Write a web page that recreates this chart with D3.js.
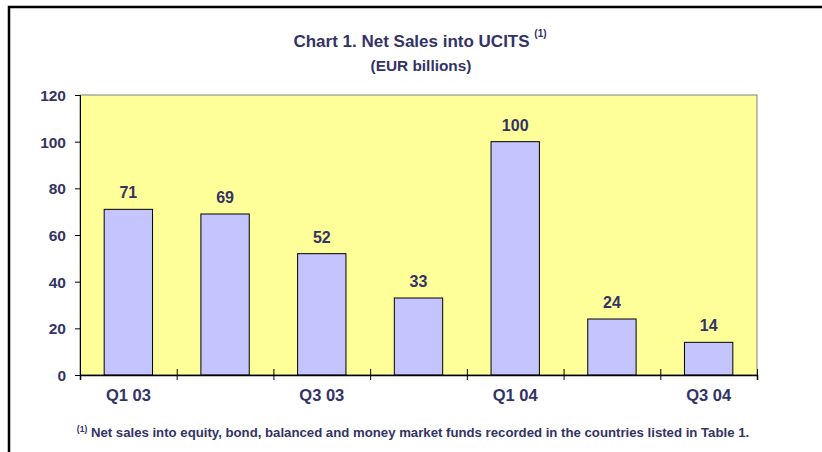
<!DOCTYPE html>
<html>
<head>
<meta charset="utf-8">
<script src="https://cdn.jsdelivr.net/npm/d3@7"></script>
<style>
  html, body { margin: 0; padding: 0; background: #fff; }
  svg { display: block; font-family: "Liberation Sans", Arial, sans-serif; font-weight: bold; }
</style>
</head>
<body>
<div id="chart"></div>
<script>
const categories = ["Q1 03", "Q2 03", "Q3 03", "Q4 03", "Q1 04", "Q2 04", "Q3 04"];
const netSales = [71, 69, 52, 33, 100, 24, 14];
const yTicks = [0, 20, 40, 60, 80, 100, 120];

const width = 822, height = 452;
const margin = { top: 95, right: 65, bottom: 77, left: 80 };
const textColor = "#333366";

const svg = d3.select("#chart").append("svg")
    .attr("width", width)
    .attr("height", height);

// outer frame, runs off the right and bottom edges like the source
svg.append("rect")
    .attr("x", 9).attr("y", 7)
    .attr("width", 840).attr("height", 470)
    .attr("fill", "none")
    .attr("stroke", "#000")
    .attr("stroke-width", 2.5);

const x = d3.scaleBand()
    .domain(categories)
    .range([margin.left, width - margin.right])
    .paddingInner(0.5)
    .paddingOuter(0.25);

const y = d3.scaleLinear()
    .domain([0, 120])
    .range([height - margin.bottom, margin.top]);

const x0 = margin.left, x1 = width - margin.right;
const y0 = y(0), yTop = y(120);

// plot area
svg.append("rect")
    .attr("x", x0).attr("y", yTop)
    .attr("width", x1 - x0).attr("height", y0 - yTop)
    .attr("fill", "#FFFF99")
    .attr("stroke", "#808080")
    .attr("stroke-width", 1);

// bars
svg.append("g")
    .selectAll("rect")
    .data(netSales)
    .join("rect")
    .attr("x", (d, i) => x(categories[i]))
    .attr("y", d => y(d))
    .attr("width", x.bandwidth())
    .attr("height", d => y0 - y(d))
    .attr("fill", "#C4C4FF")
    .attr("stroke", "#000")
    .attr("stroke-width", 1);

// value labels
svg.append("g")
    .selectAll("text")
    .data(netSales)
    .join("text")
    .attr("x", (d, i) => x(categories[i]) + x.bandwidth() / 2)
    .attr("y", d => y(d) - 11)
    .attr("text-anchor", "middle")
    .attr("font-size", 16)
    .attr("fill", textColor)
    .text(d => d);

// y axis
svg.append("g")
    .attr("transform", `translate(${x0},0)`)
    .call(d3.axisLeft(y).tickValues(yTicks).tickSize(5).tickPadding(9))
    .call(g => g.select(".domain").attr("stroke", "#000"))
    .call(g => g.selectAll("line").attr("stroke", "#000"))
    .call(g => g.selectAll("text")
        .attr("font-size", 15.5)
        .attr("font-family", "Liberation Sans, Arial, sans-serif")
        .attr("font-weight", "bold")
        .attr("fill", textColor)
        .attr("dy", "0.36em"));

// x axis: tick marks at category boundaries, crossing the axis
const xb = d3.scaleLinear().domain([0, categories.length]).range([x0, x1]);
svg.append("g")
    .attr("transform", `translate(0,${y0})`)
    .call(d3.axisBottom(xb).ticks(categories.length).tickSize(5).tickFormat(""))
    .call(g => g.select(".domain").attr("stroke", "#000").attr("stroke-width", 1.5))
    .call(g => g.selectAll(".tick line").attr("stroke", "#000").attr("y1", -6));

// x labels, every second quarter
svg.append("g")
    .selectAll("text")
    .data(categories.filter((c, i) => i % 2 === 0))
    .join("text")
    .attr("x", c => x(c) + x.bandwidth() / 2)
    .attr("y", 401)
    .attr("text-anchor", "middle")
    .attr("font-size", 16.5)
    .attr("fill", textColor)
    .text(c => c);

// title
const title = svg.append("text")
    .attr("x", 420)
    .attr("y", 47)
    .attr("text-anchor", "middle")
    .attr("font-size", 17)
    .attr("fill", textColor);
title.append("tspan").text("Chart 1. Net Sales into UCITS ");
title.append("tspan").attr("font-size", 10).attr("dy", -10).text("(1)");

svg.append("text")
    .attr("x", 421)
    .attr("y", 71)
    .attr("text-anchor", "middle")
    .attr("font-size", 15.4)
    .attr("fill", textColor)
    .text("(EUR billions)");

// footnote
const note = svg.append("text")
    .attr("x", 413)
    .attr("y", 437)
    .attr("text-anchor", "middle")
    .attr("font-size", 13.2)
    .attr("fill", textColor);
note.append("tspan").attr("font-size", 8.5).attr("dy", -5).text("(1)");
note.append("tspan").attr("dy", 5).text(" Net sales into equity, bond, balanced and money market funds recorded in the countries listed in Table 1.");
</script>
</body>
</html>
